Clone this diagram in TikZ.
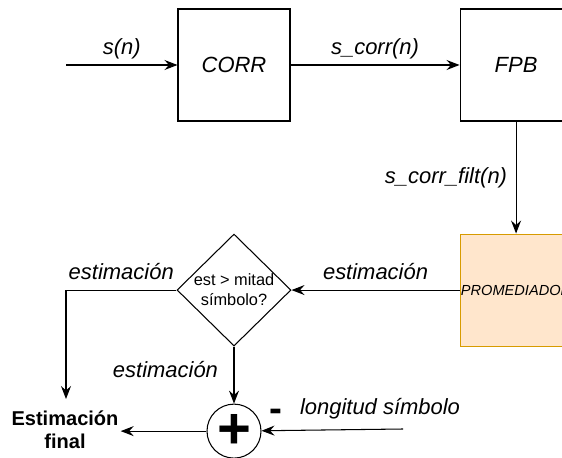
\documentclass[tikz,border=0pt]{standalone}
\usepackage{fontspec}
\setmainfont{Liberation Sans}
\usetikzlibrary{arrows.meta, positioning, shapes.geometric}
\definecolor{peachfill}{HTML}{FFE6CC}
\definecolor{peachedge}{HTML}{D79B00}

\begin{document}
\begin{tikzpicture}[line width=0.6pt,
  >={Stealth[length=2.6mm, width=2mm, inset=0.9mm]},
  lbl/.style={font=\itshape\fontsize{12.5}{15}\selectfont},
  blk/.style={draw, minimum width=2.24cm, minimum height=2.24cm, inner sep=0pt,
    font=\itshape\fontsize{12.5}{15}\selectfont},
  dec/.style={draw, diamond, aspect=1, minimum width=2.28cm,
    minimum height=2.24cm, inner sep=0pt},
  dectext/.style={align=center, inner sep=0pt, font=\fontsize{9.3}{11.4}\selectfont},
  sumnode/.style={draw, circle, minimum size=1.08cm, inner sep=0pt,
    font=\bfseries\fontsize{33}{33}\selectfont},
  outtext/.style={align=center, inner sep=1pt,
    font=\bfseries\fontsize{11.4}{13}\selectfont}]

  \useasboundingbox (0,0) rectangle (11.24,-9.16);
  \clip (0,0) rectangle (11.24,-9.16);

  % blocks along the top and down the right side
  \coordinate (sin) at (1.32,-1.30);
  \node[blk] (corr) at (4.68,-1.30) {CORR};
  \node[blk, right=3.38cm of corr] (fpb) {FPB};
  \node[blk, below=2.24cm of fpb, fill=peachfill, draw=peachedge,
    font=\itshape\fontsize{8.3}{10}\selectfont] (prom) {PROMEDIADOR};

  % decision, sum and output
  \node[dec] (dec) at (corr |- prom) {};
  \node[dectext] (dectxt) at (dec) {est > mitad\\símbolo?};
  \node[sumnode, below=1.14cm of dec] (sum) {+};
  \node[outtext] (fin) at (1.30,-8.60) {Estimación\\final};
  \coordinate (finin) at (1.32,-7.98);
  \coordinate (lsym) at (8.06,-8.58);
  \node[lbl] (ltxt) at (7.60,-8.18) {longitud símbolo};
  \node[font=\bfseries\fontsize{22}{22}\selectfont, inner sep=0pt] (neg) at (5.52,-8.31) {-};

  \draw[->] (sin) -- node[lbl, above] (sn) {s(n)} (corr);
  \draw[->] (corr) -- node[lbl, above] (scn) {s\_corr(n)} (fpb);
  \draw[->] (fpb) -- node[lbl, left=1.5pt] (scfn) {s\_corr\_filt(n)} (prom);
  \draw[->] (prom) -- node[lbl, above=2pt] (est1) {estimación} (dec);
  \draw[->] (dec.west) -| node[lbl, above=2pt, pos=0.25] (est2) {estimación} (finin);
  \draw[->] (dec) -- node[lbl, left=5.5pt, pos=0.4] (est3) {estimación} (sum);
  \draw[->] (lsym) -- (sum);
  \draw[->] (sum) -- (sum -| fin.east);
\end{tikzpicture}
\end{document}
